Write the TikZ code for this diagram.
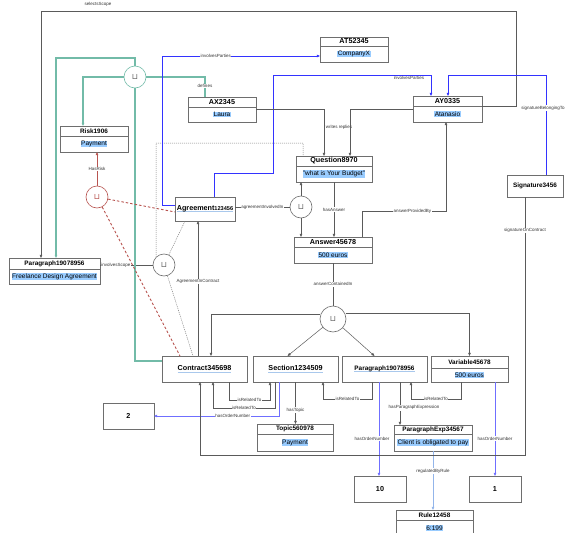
\documentclass[tikz,border=0pt]{standalone}
\usepackage{fontspec}
\setmainfont{Liberation Sans}
\newfontfamily\cupfont{DejaVu Sans}
\usepackage{tikz}
\usetikzlibrary{
    positioning, % relative placement
    arrows.meta, % arrow tips
    calc
}
\definecolor{boxgray}{HTML}{6E6E6E}
\definecolor{linegray}{HTML}{5A5A5A}
\definecolor{tealline}{HTML}{72BBA8}
\definecolor{redline}{HTML}{B85450}
\definecolor{blueline}{HTML}{3333FF}
\definecolor{ordblue}{HTML}{6F6FFF}
\definecolor{ruleblue}{HTML}{93B5EA}
\definecolor{hlblue}{HTML}{99CCFF}
\definecolor{ulblue}{HTML}{A9C8EC}
\newcommand\hlv[1]{{\setlength\fboxsep{0.5pt}\colorbox{hlblue}{#1}}}
\newcommand\ulbl[1]{\setbox0\hbox{#1}\rlap{\color{ulblue}\rule[-1.4pt]{\wd0}{0.7pt}}\box0}

\begin{document}
\begin{tikzpicture}[
    x=1pt, y=-1pt,
    tip/.style={-{Triangle[length=3.2pt,width=2.6pt]}},
    conn/.style={draw=linegray, line width=0.5pt, tip},
    plain/.style={draw=linegray, line width=0.5pt},
    tealln/.style={draw=tealline, line width=1.2pt},
    redln/.style={draw=redline, line width=0.9pt, dash pattern=on 2.5pt off 2pt},
    dotln/.style={draw=linegray!80, line width=0.5pt, dash pattern=on 1pt off 1pt},
    blueln/.style={draw=blueline, line width=0.9pt, tip},
    ordln/.style={draw=ordblue, line width=0.6pt, tip},
    ruleln/.style={draw=ruleblue, line width=1pt, tip},
    lbl/.style={
        font=\fontsize{4.5}{5}\selectfont,
        text=black!80,
        fill=white,
        inner sep=0.6pt
    },
    titlecell/.style={
        draw=boxgray,
        fill=white,
        line width=0.6pt,
        minimum height=10pt,
        inner sep=0pt,
        outer sep=0pt,
        font=\bfseries\fontsize{6.4}{7}\selectfont
    },
    bigtitle/.style={
        titlecell,
        font=\bfseries\fontsize{7.2}{8}\selectfont
    },
    valcell/.style={
        draw=boxgray,
        fill=white,
        line width=0.6pt,
        minimum height=16pt,
        inner sep=0pt,
        outer sep=0pt,
        font=\fontsize{6.5}{7}\selectfont
    },
    single/.style={
        draw=boxgray,
        fill=white,
        line width=0.6pt,
        minimum height=26pt,
        inner sep=0pt,
        outer sep=0pt,
        font=\bfseries\fontsize{7.2}{8}\selectfont
    },
    union/.style={
        circle,
        draw=boxgray,
        fill=white,
        line width=0.6pt,
        minimum size=22pt,
        inner sep=0pt,
        text=black!60,
        font=\cupfont\fontsize{8}{8}\selectfont
    }
]
\path[use as bounding box, clip] (0,0) rectangle (566,533);

% Objects with a value
\node[titlecell, minimum width=68pt] (riskT) at (94,131) {Risk1906};
\node[valcell, minimum width=68pt, below=0pt of riskT] (risk) {\hlv{Payment}};

\node[bigtitle, minimum width=68pt] (axT) at (222,102) {AX2345};
\node[valcell, minimum width=68pt, minimum height=15pt, below=0pt of axT] (ax) {\hlv{Laura}};

\node[bigtitle, minimum width=68pt, minimum height=9pt] (atT) at (354,41.5) {AT52345};
\node[valcell, minimum width=68pt, below=0pt of atT] (at) {\hlv{CompanyX}};

\node[bigtitle, minimum width=69pt] (ayT) at (447.5,101) {AY0335};
\node[valcell, minimum width=69pt, below=0pt of ayT] (ay) {\hlv{Atanasio}};

\node[bigtitle, minimum width=76pt] (qT) at (334,161) {Question8970};
\node[valcell, minimum width=76pt, below=0pt of qT] (q) {\hlv{"what is Your Budget"}};

\node[bigtitle, minimum width=78pt] (ansT) at (333,242) {Answer45678};
\node[valcell, minimum width=78pt, below=0pt of ansT] (ans) {\hlv{500 euros}};

\node[titlecell, minimum width=91pt, minimum height=11pt] (parLT) at (54.5,263.5) {Paragraph19078956};
\node[valcell, minimum width=91pt, minimum height=15pt, below=0pt of parLT] (parL) {\hlv{Freelance Design Agreement}};

\node[titlecell, minimum width=77pt, minimum height=12pt] (varT) at (469.5,362) {Variable45678};
\node[valcell, minimum width=77pt, minimum height=14pt, below=0pt of varT] (var) {\hlv{500 euros}};

\node[titlecell, minimum width=76pt] (topT) at (295,429) {Topic560978};
\node[valcell, minimum width=76pt, minimum height=17pt, below=0pt of topT] (top) {\hlv{Payment}};

\node[titlecell, minimum width=78pt, minimum height=9pt] (pexT) at (433,429.5) {ParagraphExp34567};
\node[valcell, minimum width=78pt, minimum height=17pt, below=0pt of pexT] (pex) {\hlv{Client is obligated to pay}};

\node[titlecell, minimum width=77pt] (ruleT) at (434.5,515) {Rule12458};
\node[valcell, minimum width=77pt, below=0pt of ruleT] (rule) {\hlv{6:199}};

% Single boxes
\node[single, minimum width=56pt, minimum height=22pt, font=\bfseries\fontsize{6.4}{7}\selectfont] (sig) at (535,186) {Signature3456};
\node[single, minimum width=60pt, minimum height=24pt] (agr) at (205,209)
{\ulbl{Agreement{\fontsize{5.6}{6}\selectfont 123456}}};
\node[single, minimum width=85pt] (con) at (204.5,369) {\ulbl{Contract345698}};
\node[single, minimum width=85pt] (sec) at (295.5,369) {\ulbl{Section1234509}};
\node[single, minimum width=85pt, font=\bfseries\fontsize{6.4}{7}\selectfont] (parM) at (384.5,369) {\ulbl{Paragraph19078956}};
\node[single, minimum width=51pt] (n2) at (128.5,416) {2};
\node[single, minimum width=52pt] (n10) at (380,489) {10};
\node[single, minimum width=52pt] (n1) at (495,489) {1};

% Unions
\node[union, draw=tealline] (uTeal) at (135,77) {⊔};
\node[union, draw=redline, text=redline] (uRed) at (97,197) {⊔};
\node[union] (uScope) at (164,265) {⊔};
\node[union] (uAgr) at (301,207) {⊔};
\node[union, minimum size=26pt] (uAns) at (333,319) {⊔};

% Scope
\draw[conn] (ay.north east) -- (516,106) -- (516,11)
  -- node[font=\fontsize{4.5}{5}\selectfont, text=black!80, above=0.8pt, pos=0.88] {selectsScope} (41,11)
  -- (41,0 |- parLT.north);
\draw[plain] (parLT.east |- uScope) -- node[lbl, pos=0.3] {involvesScope} (uScope.west);

% Teal union
\draw[tealln, tip] (uTeal.north) |- (56,58) -- (56,0 |- parLT.north);
\draw[tealln, tip] (uTeal.west) -| (83,0 |- riskT.north);
\draw[tealln] (uTeal.east) -| node[lbl, pos=0.72] {defines} (205,0 |- axT.north);
\draw[tealln] ([yshift=8pt]con.west) -| (uTeal.south);

% Red union
\draw[draw=redline, line width=0.6pt, tip] (uRed.north) -- node[lbl] {HasRisk} (uRed.north |- risk.south);
\draw[redln] (uRed) -- ([yshift=-3pt]agr.west);
\draw[redln] (uRed) -- ([xshift=18pt]con.north west);

% Dotted scope links
\draw[dotln] (uScope.north west) -- (156,143) -- (303,143) -- ([xshift=7pt]qT.north west);
\draw[dotln] (uScope) -- ([xshift=-20pt]agr.south);
\draw[dotln] (uScope) -- ([xshift=31pt]con.north west);

% Parties
\draw[blueln] ([yshift=4pt]agr.west) -- (162,205) |- node[lbl, pos=0.67] {involvesParties} ([yshift=-2pt]at.west);
\draw[blueln] ([xshift=9pt]agr.north) -- (214,173) -- (273,173) -- (273,75)
  -- node[lbl, pos=0.86, yshift=-3pt] {involvesParties} (431,75) -- (431,0 |- ayT.north);
\draw[blueln] ([xshift=11pt]sig.north) -- node[lbl, pos=0.67, xshift=-3pt] {signatureBelongingTo} (546,75)
  -- (448,75) -- (448,0 |- ayT.north);

% Question and answer
\draw[conn] ([yshift=-2pt]ax.north east) -| node[lbl, pos=0.69, anchor=west, xshift=1pt] {writes replies} ([xshift=28pt]qT.north west);
\draw[conn] ([yshift=-3pt]ay.north west) -| ([xshift=54pt]qT.north west);
\draw[plain] (agr.east |- uAgr) -- node[lbl] {agreementInvolvedIn} (uAgr.west);
\draw[conn] (uAgr.north) -- (uAgr.north |- q.south);
\draw[conn] (uAgr.south) -- (uAgr.south |- ansT.north);
\draw[conn] (q.south) -- node[lbl] {hasAnswer} (q.south |- ansT.north);
\draw[conn] ([xshift=-10pt]ansT.north east) -- (362,211)
  -- node[lbl, pos=0.6] {answerProvidedBy} (446,211) -- (446,0 |- ay.south);
\draw[plain] (ans.south) -- node[lbl] {answerContainedIn} (uAns.north);

% Answer contained in
\draw[conn] ([yshift=5pt]uAns.west) -| ([xshift=49pt]con.north west);
\draw[conn] (uAns) -- ([xshift=-8pt]sec.north);
\draw[conn] (uAns) -- ([xshift=-10pt]parM.north);
\draw[conn] ([yshift=6pt]uAns.east) -| (varT.north);

% Contract links
\draw[conn] ([xshift=36pt]con.north west) -- node[lbl, pos=0.55] {AgreementInContract} ([xshift=36pt]con.north west |- agr.south);
\draw[conn] ([xshift=67pt]con.south west) -- (229,400) -- node[lbl] {isRelatedTo} (270,400) -- ([xshift=17pt]sec.south west);
\draw[conn] ([xshift=22pt]sec.south west) -- (275,408) -- node[lbl] {isRelatedTo} (213,408) -- ([xshift=51pt]con.south west);
\draw[ordln] ([xshift=26pt]sec.south west) -- (279,416) -- node[lbl, pos=0.37] {hasOrderNumber} (n2.east);
\draw[conn] (sec.south) -- node[lbl, pos=0.67] {hasTopic} (sec.south |- topT.north);
\draw[conn] ([xshift=30pt]parM.south west) -- (372,399) -- node[lbl] {isRelatedTo} (323,399) -- ([xshift=70pt]sec.south west);
\draw[conn] ([xshift=30pt]var.south west) -- (461,399) -- node[lbl] {isRelatedTo} (411,399) -- ([xshift=69pt]parM.south west);
\draw[conn] ([xshift=58pt]parM.south west) -- node[lbl, pos=0.6, xshift=14pt] {hasParagraphExpression} ([xshift=58pt]parM.south west |- pexT.north);
\draw[ordln] ([xshift=37pt]parM.south west) -- node[lbl, pos=0.6, xshift=-7pt] {hasOrderNumber} ([xshift=37pt]parM.south west |- n10.north);
\draw[ordln] ([xshift=64pt]var.south west) -- node[lbl, pos=0.6] {hasOrderNumber} ([xshift=64pt]var.south west |- n1.north);
\draw[ruleln] (pex.south) -- node[lbl, pos=0.34] {regulatedByRule} (pex.south |- ruleT.north);
\draw[conn] ([xshift=-10pt]sig.south) -- node[lbl, pos=0.13] {signatureOnContract} (525,455)
  -- (200,455) -- ([xshift=38pt]con.south west);

\end{tikzpicture}
\end{document}
